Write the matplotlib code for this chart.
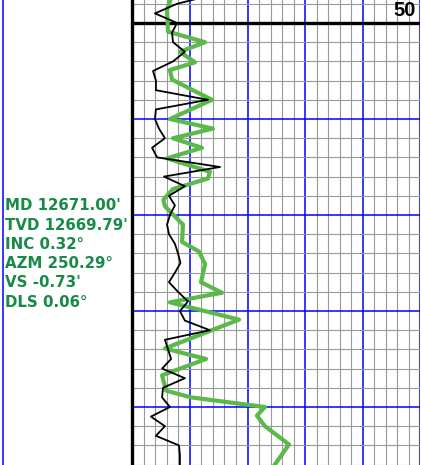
import matplotlib
matplotlib.use("Agg")
import matplotlib.pyplot as plt
from matplotlib.lines import Line2D

# ---- data ----
black_depth = [12647, 12648, 12649, 12650, 12651, 12652, 12653, 12654, 12655, 12656,
               12657, 12658, 12659, 12660, 12661, 12662, 12663, 12664, 12665, 12666,
               12667, 12668, 12669, 12670, 12671, 12672, 12673, 12674, 12675, 12676,
               12677, 12678, 12679, 12680, 12681, 12682, 12683, 12684, 12685, 12686,
               12687, 12688, 12689, 12690, 12691, 12692, 12693, 12694, 12695, 12696, 12697]
black_value = [43.1, 23.3, 11.8, 23.3, 20.7, 21.2, 27.4, 21.2, 10.8, 12.3,
               12.3, 39.4, 12.3, 11.8, 13.9, 17.0, 10.3, 12.9, 45.7, 16.5,
               27.4, 19.1, 22.2, 19.6, 18.1, 19.1, 22.2, 23.8, 25.1, 22.2,
               19.1, 23.8, 29.0, 24.8, 27.4, 40.4, 17.0, 18.6, 20.2, 15.5,
               27.4, 16.0, 15.5, 19.6, 9.7, 17.0, 12.3, 24.3, 24.8, 24.8, 24.8]

green_depth = [12647.1, 12648.6, 12650.9, 12652.0, 12653.0, 12654.1, 12654.9, 12655.9,
               12658.0, 12660.0, 12661.0, 12662.0, 12663.0, 12664.1, 12665.5, 12666.2,
               12667.3, 12668.4, 12669.1, 12671.0, 12672.8, 12673.8, 12675.1, 12677.0,
               12678.1, 12679.1, 12680.9, 12683.9, 12685.0, 12686.7, 12688.3, 12689.0,
               12690.0, 12690.9, 12692.0, 12693.9, 12697.1]
green_value = [20.7, 18.1, 18.6, 37.9, 24.8, 32.7, 19.6, 20.7,
               41.5, 19.6, 42.0, 21.2, 36.3, 18.1, 40.4, 39.4,
               21.2, 16.2, 17.0, 26.4, 25.9, 34.7, 37.9, 35.8,
               46.7, 19.6, 55.6, 17.0, 38.4, 15.5, 17.6, 30.6,
               69.1, 64.9, 69.1, 81.6, 70.4]

info_labels = ["MD 12671.00'", "TVD 12669.79'", "INC 0.32°", "AZM 250.29°",
               "VS -0.73'", "DLS 0.06°"]
depth_marker = 12650
depth_marker_label = "50"

x_min, x_max = 0, 150
depth_top, depth_bottom = 12647.604, 12696.042

# ---- figure ----
W, H = 422, 465
fig = plt.figure(figsize=(W / 100, H / 100), dpi=100)
fig.patch.set_facecolor("white")

ax = fig.add_axes([132.3 / W, 0, 288 / W, 1])
for s in ax.spines.values():
    s.set_visible(False)

ax.set_xticks(range(0, 151, 30))
ax.set_xticks(range(0, 151, 6), minor=True)
ax.set_yticks(range(12650, 12700, 10))
ax.set_yticks(range(12646, 12700, 2), minor=True)
ax.tick_params(which="both", length=0, labelbottom=False, labelleft=False)
ax.set_axisbelow(True)
ax.grid(which="minor", color="#999999", lw=0.8)
ax.grid(which="major", color="#0000ff", lw=1.1)

ax.axhline(depth_marker, color="black", lw=2.4, zorder=2.5)
ax.axvline(0, color="black", lw=2.4, zorder=5, clip_on=False)

ax.plot(green_value, green_depth, color="#5ab948", lw=3.0, zorder=3)
ax.plot(black_value, black_depth, color="black", lw=1.3, zorder=4)

ax.set_xlim(x_min, x_max)
ax.set_ylim(depth_bottom, depth_top)

# left panel border
fig.add_artist(Line2D([3 / W, 3 / W], [0, 1], transform=fig.transFigure,
                      color="#0000ff", lw=1.1))

# info text
y0 = 210.5
for i, t in enumerate(info_labels):
    fig.text(5 / W, 1 - (y0 + i * 19.2) / H, t, ha="left", va="baseline",
             fontsize=10.8, fontweight="bold", color="#178a48",
             family=["DejaVu Sans"], zorder=10)

fig.text(416 / W, 1 - 15.5 / H, depth_marker_label, ha="right", va="baseline",
         fontsize=14.5, fontweight="bold", color="black",
         family=["Liberation Sans", "DejaVu Sans"])

fig.savefig("out.png", dpi=100, facecolor="white")
